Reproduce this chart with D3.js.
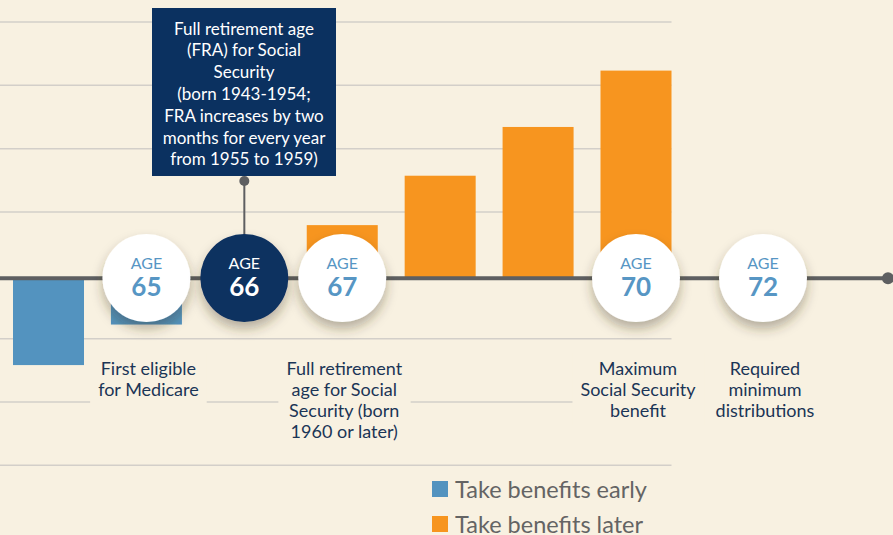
<!DOCTYPE html>
<html>
<head>
<meta charset="utf-8">
<script src="https://cdn.jsdelivr.net/npm/d3@7"></script>
<style>
  html, body { margin: 0; padding: 0; background: #f8f1e1; }
  svg { display: block; font-family: Lato, "Noto Sans", sans-serif; }
</style>
</head>
<body>
<div id="chart"></div>
<script>
// benefit change (percent vs. full retirement age) by claiming age
const ages = [64, 65, 66, 67, 68, 69, 70];
const benefitChange = [-13.7, -7.3, 0, 8.4, 16.2, 23.9, 32.8];
const gridValues = [-30, -20, -10, 10, 20, 30, 40];

const milestoneAges = [65, 66, 67, 70, 72];
const milestoneLabels = [
    ["First eligible", "for Medicare"],
    [],
    ["Full retirement", "age for Social", "Security (born", "1960 or later)"],
    ["Maximum", "Social Security", "benefit"],
    ["Required", "minimum", "distributions"]
];
const calloutLines = [
    "Full retirement age",
    "(FRA) for Social",
    "Security",
    "(born 1943-1954;",
    "FRA increases by two",
    "months for every year",
    "from 1955 to 1959)"
];
const seriesNames = ["Take benefits early", "Take benefits later"];

var width = 893, height = 535;
var colours = { early: "#5393bf", later: "#f7951f", navy: "#0b3160", axis: "#5e5f61",
                grid: "#d3cfc9", text: "#1b3556", ageBlue: "#5796c4", bg: "#f8f1e1" };

var svg = d3.select("#chart").append("svg")
    .attr("width", width)
    .attr("height", height);

var defs = svg.append("defs");
var shadow = defs.append("filter").attr("id", "shadow")
    .attr("x", "-50%").attr("y", "-50%").attr("width", "200%").attr("height", "200%");
shadow.append("feDropShadow")
    .attr("dx", 0).attr("dy", 7).attr("stdDeviation", 6)
    .attr("flood-color", "#3a3020").attr("flood-opacity", 0.35);

// piecewise scale: ages 64-70 evenly spaced, 72 squeezed in at the end
var x = d3.scaleLinear().domain([64, 70, 72]).range([48.5, 636, 763]);
var y = d3.scaleLinear().domain([-30, 40]).range([465.3, 22]);
var barWidth = 71;
var axisY = y(0) + 3;
var gridRight = x(70) + barWidth / 2;

// gridlines
svg.append("g").selectAll("line")
    .data(gridValues)
    .enter().append("line")
    .attr("x1", 0).attr("x2", gridRight)
    .attr("y1", d => y(d)).attr("y2", d => y(d))
    .attr("stroke", colours.grid).attr("stroke-width", 1.5);

// bars
var barData = ages.map((a, i) => ({ age: a, value: benefitChange[i] })).filter(d => d.value !== 0);
svg.append("g").selectAll("rect")
    .data(barData)
    .enter().append("rect")
    .attr("x", d => x(d.age) - barWidth / 2)
    .attr("width", barWidth)
    .attr("y", d => d.value > 0 ? axisY - (y(0) - y(d.value)) : axisY)
    .attr("height", d => Math.abs(y(0) - y(d.value)))
    .attr("fill", d => d.value < 0 ? colours.early : colours.later);

// timeline axis
svg.append("line")
    .attr("x1", 0).attr("x2", 888)
    .attr("y1", axisY).attr("y2", axisY)
    .attr("stroke", colours.axis).attr("stroke-width", 4);
svg.append("circle")
    .attr("cx", 888).attr("cy", axisY).attr("r", 6)
    .attr("fill", colours.axis);

// callout for FRA 66
var calloutX = x(66);
svg.append("line")
    .attr("x1", calloutX).attr("x2", calloutX)
    .attr("y1", 181).attr("y2", axisY - 40)
    .attr("stroke", colours.axis).attr("stroke-width", 2);
svg.append("circle")
    .attr("cx", calloutX).attr("cy", 181).attr("r", 5)
    .attr("fill", colours.axis);
svg.append("rect")
    .attr("x", 152).attr("y", 8)
    .attr("width", 184).attr("height", 168)
    .attr("fill", colours.navy);
svg.append("text")
    .attr("text-anchor", "middle")
    .attr("fill", "#ffffff")
    .style("font-size", "17px")
    .selectAll("tspan")
    .data(calloutLines)
    .enter().append("tspan")
    .attr("x", 244)
    .attr("y", (d, i) => 34.5 + i * 21.8)
    .text(d => d);

// milestone labels with background boxes (cut the gridline behind them)
var labelGroups = svg.append("g").selectAll("g")
    .data(milestoneAges.map((a, i) => ({ age: a, lines: milestoneLabels[i] })).filter(d => d.lines.length))
    .enter().append("g");

var labelTexts = labelGroups.append("text")
    .attr("text-anchor", "middle")
    .attr("fill", colours.text)
    .style("font-size", "18px");
labelTexts.selectAll("tspan")
    .data(d => d.lines.map(l => ({ age: d.age, line: l })))
    .enter().append("tspan")
    .attr("x", d => x(d.age) + 2)
    .attr("y", (d, i) => 375 + i * 21)
    .text(d => d.line);

labelGroups.each(function () {
    var g = d3.select(this);
    var bb = g.select("text").node().getBBox();
    g.insert("rect", "text")
        .attr("x", bb.x - 8).attr("y", bb.y - 4)
        .attr("width", bb.width + 16).attr("height", bb.height + 8)
        .attr("fill", colours.bg);
});

// age circles
var circles = svg.append("g").selectAll("g")
    .data(milestoneAges)
    .enter().append("g")
    .attr("transform", d => "translate(" + x(d) + "," + (axisY - 0.3) + ")");

circles.append("circle")
    .attr("r", 44)
    .attr("fill", d => d === 66 ? colours.navy : "#ffffff")
    .attr("filter", "url(#shadow)");

circles.append("text")
    .attr("text-anchor", "middle")
    .attr("y", -9)
    .attr("fill", d => d === 66 ? "#ffffff" : colours.ageBlue)
    .style("font-size", "16px")
    .text("AGE");

circles.append("text")
    .attr("text-anchor", "middle")
    .attr("y", 17.5)
    .attr("fill", d => d === 66 ? "#ffffff" : colours.ageBlue)
    .style("font-size", "26px")
    .style("font-weight", "bold")
    .text(d => d);

// legend
var legend = svg.append("g").selectAll("g")
    .data(seriesNames)
    .enter().append("g")
    .attr("transform", (d, i) => "translate(432," + (481 + i * 35) + ")");

legend.append("rect")
    .attr("width", 16).attr("height", 16)
    .attr("fill", (d, i) => i === 0 ? colours.early : colours.later);

legend.append("text")
    .attr("x", 23).attr("y", 17)
    .attr("fill", "#646464")
    .style("font-size", "23.5px")
    .text(d => d);
</script>
</body>
</html>
